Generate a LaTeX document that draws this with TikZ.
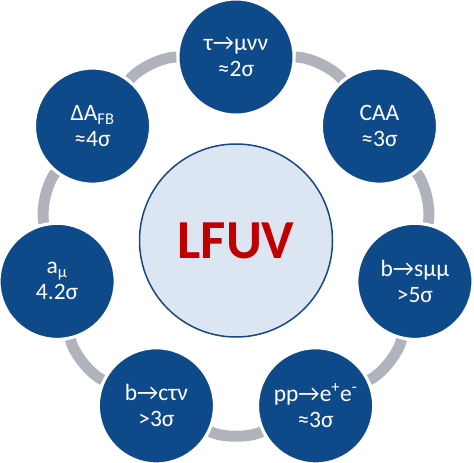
\documentclass[tikz,border=0pt]{standalone}
\usepackage{fontspec}
\setmainfont{Carlito}
\usetikzlibrary{calc,backgrounds}
\definecolor{satblue}{RGB}{14,74,138}
\definecolor{ringgray}{RGB}{176,179,187}
\definecolor{hubfill}{RGB}{220,230,242}
\definecolor{hubedge}{RGB}{24,70,130}
\definecolor{lfured}{RGB}{192,0,0}
\tikzset{
  sat/.style={circle, fill=satblue, draw=white, line width=3pt, minimum size=116pt,
    inner sep=0pt, text=white, align=center, font=\fontsize{23.5}{26}\selectfont},
  hub/.style={circle, fill=hubfill, draw=hubedge, line width=1.5pt, minimum size=193pt,
    inner sep=0pt, text=lfured, font=\fontsize{55}{60}\selectfont\bfseries},
  ringseg/.style={draw=ringgray, line width=11pt, bend left=25.7, looseness=0.7}
}
\begin{document}
\begin{tikzpicture}[x=1pt,y=-1pt]
\useasboundingbox (0,0) rectangle (474,463);
\coordinate (c) at (236,240.5);
\node[hub] (lfuv) at (c) {LFUV};
\node[sat] (tau)  at ($(c)+(-90:183.5)$)    {τ→μνν\\≈2σ};
\node[sat] (caa)  at ($(c)+(-38.57:183.5)$) {CAA\\≈3σ};
\node[sat] (bsmm) at ($(c)+(12.86:183.5)$)  {b→sμμ\\>5σ};
\node[sat] (ppee) at ($(c)+(64.29:183.5)$)  {pp→e\textsuperscript{+}e\textsuperscript{-}\\≈3σ};
\node[sat] (bctn) at ($(c)+(115.71:183.5)$) {b→cτν\\>3σ};
\node[sat] (amu)  at ($(c)+(167.14:183.5)$) {a\textsubscript{μ}\\4.2σ};
\node[sat] (afb)  at ($(c)+(218.57:183.5)$) {ΔA\textsubscript{FB}\\≈4σ};
\begin{scope}[on background layer]
\draw[ringseg] (tau) to (caa);
\draw[ringseg] (caa) to (bsmm);
\draw[ringseg] (bsmm) to (ppee);
\draw[ringseg] (ppee) to (bctn);
\draw[ringseg] (bctn) to (amu);
\draw[ringseg] (amu) to (afb);
\draw[ringseg] (afb) to (tau);
\end{scope}
\end{tikzpicture}
\end{document}
